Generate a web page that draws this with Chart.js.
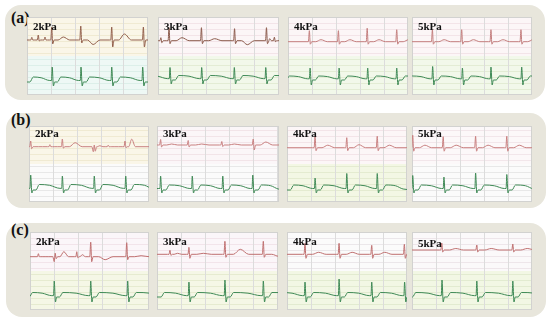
<!DOCTYPE html>
<html><head><meta charset="utf-8">
<script src="https://cdn.jsdelivr.net/npm/chart.js@4.4.0/dist/chart.umd.min.js"></script>
<style>
html,body{margin:0;padding:0;background:#fff;}
#root{position:relative;width:550px;height:325px;overflow:hidden;font-family:'Liberation Serif','Times New Roman',serif;}
.box{position:absolute;background:#e8e6dc;border-radius:16px;}
.panel{position:absolute;}
.panel canvas{display:block;}
.plabel{position:absolute;font-weight:bold;font-size:11px;color:#111;line-height:11px;white-space:nowrap;}
.rlabel{position:absolute;font-weight:bold;font-size:16px;color:#111;line-height:16px;}
</style></head><body><div id="root"></div>
<script>
// ---------- DATA ----------
const rowLabels = ["(a)", "(b)", "(c)"];
const pressures = ["2kPa", "3kPa", "4kPa", "5kPa"];

// Red (upper) traces: beats per panel as [time s, R mV, S depth mV, T mV, Q dip mV]
const redA = [
  [[0.2,0.27,0,0,0],[0.47,0.5,0.1,0,0],[0.75,0.3,0,0,0],[1.03,1.3,0.4,0.3,0],[2.24,1.4,0.3,-0.45,0],[3.53,1.3,0.7,0.6,0],[4.85,1.3,0.7,0,0]],
  [[0.12,0.3,0.2,0,0],[0.46,1.3,0.3,0.3,0],[1.81,1.3,0.3,0.2,0],[3.19,1.2,0.3,-0.4,0],[4.52,1.3,0.3,0.2,0],[4.85,0.35,0.1,0,0]],
  [[0.89,1.1,0.25,0.2,0],[2.1,1.1,0.25,0.2,0],[3.3,1.35,0.25,0.2,0],[4.53,1.2,0.25,0.2,0]],
  [[0.85,1.2,0.25,0.2,0],[2.07,1.2,0.25,0.2,0],[3.29,1.2,0.25,0.2,0],[4.54,1.2,0.25,0.2,0]]
];
const redB = [
  [[0.07,0.57,0.2,0,0],[0.87,0.2,0,0,0],[1.39,0.77,0.15,0.4,0],[2.72,0.17,0.45,0.1,0.5],[3.3,0.15,0,0,0],[4.0,0.57,0.1,0.75,0]],
  [[0.15,0.55,0.2,0.1,0],[1.3,0.45,0.2,0.1,0],[2.7,0.35,0.15,0.1,0],[4.01,0.6,0.5,0.3,0]],
  [[1.17,1.15,0.3,0.25,0],[2.49,1.0,0.3,0.3,0],[3.76,1.15,0.3,0.25,0]],
  [[0.03,1.25,0.35,0.25,0],[1.3,1.1,0.35,0.25,0],[2.65,1.15,0.35,0.25,0],[3.95,1.15,0.35,0.25,0]]
];
const redC = [
  [[0.35,0.3,0,0,0],[1.05,0.35,0.2,0.5,0.5],[1.95,0.5,0.1,0.2,0],[2.53,1.45,0.5,-0.3,0],[4.03,1.4,0.3,0.1,0]],
  [[0.54,0.4,0.1,0.1,0],[1.33,0.7,0.4,0.1,0],[2.83,1.3,0.3,0.5,0],[4.43,1.3,0.3,-0.2,0]],
  [[0.75,1.1,0.4,0.2,0],[2.17,1.1,0.4,0.2,0],[3.53,0.9,0.4,0.2,0],[4.89,1.0,0.4,0,0]],
  [[1.24,0.7,0.2,0.15,0],[2.7,0.5,0.2,0.15,0],[4.2,0.6,0.2,0.15,0]]
];

// Green (lower) traces: beats per panel as [time s, R mV, S depth mV, T mV]
const greenA = [
  [[-0.1,0,0,0.5],[1.05,1.5,0.4,0.5],[2.25,1.5,0.4,0.5],[3.53,1.5,0.4,0.5],[4.82,1.5,0.4,0.5]],
  [[-0.8,0,0,0.45],[0.5,1.25,0.4,0.45],[1.82,1.25,0.4,0.45],[3.18,1.25,0.4,0.45],[4.49,1.25,0.4,0.45]],
  [[-0.3,0,0,0.4],[0.92,1.2,0.5,0.4],[2.13,1.2,0.5,0.4],[3.32,1.2,0.5,0.4],[4.53,1.2,0.5,0.4]],
  [[-0.35,0,0,0.4],[0.86,1.35,0.5,0.4],[2.1,1.2,0.5,0.4],[3.29,1.3,0.5,0.4],[4.57,1.3,0.5,0.4]]
];
const greenB = [
  [[0.07,1.5,0.3,0.55],[1.39,1.4,0.3,0.55],[2.72,1.4,0.3,0.55],[4.03,1.4,0.3,0.55]],
  [[0.15,1.4,0.3,0.5],[1.47,1.4,0.3,0.5],[2.74,1.4,0.3,0.5],[3.99,1.5,0.3,0.5]],
  [[-0.08,0,0,0.5],[1.17,1.2,0.3,0.5],[2.49,1.65,0.3,0.5],[3.76,1.65,0.3,0.5]],
  [[0.03,1.45,0.3,0.5],[1.33,1.3,0.3,0.5],[2.65,1.7,0.3,0.5],[3.95,1.55,0.3,0.5]]
];
const greenC = [
  [[-0.25,0,0,0.45],[1.01,1.6,0.5,0.45],[2.53,1.6,0.5,0.45],[4.07,1.6,0.5,0.45]],
  [[-0.05,0,0,0.45],[1.33,1.5,0.5,0.45],[2.83,1.7,0.5,0.45],[4.43,1.6,0.5,0.45]],
  [[-0.6,0,0,0.45],[0.75,1.5,0.5,0.45],[2.17,1.8,0.5,0.45],[3.53,1.5,0.5,0.45],[4.9,1.5,0.5,0.45]],
  [[-0.2,0,0,0.45],[1.25,1.7,0.5,0.45],[2.7,1.6,0.5,0.45],[4.2,1.6,0.5,0.45]]
];
const redRows = [redA, redB, redC];
const greenRows = [greenA, greenB, greenC];

// ---------- LAYOUT & STYLE ----------
const PX_PER_S = 24, PX_PER_MV = 10;
const rowLayout = [
  {box:[5,5,540,95], label:[11,10], top:17, h:78, panels:[[27,121],[158,121],[288,120],[412,120]],
   redBase:[23,23.7,24.7,24.7], greenBase:[65,63,63,63], labelDY:[4,4,4,4]},
  {box:[6,113,540,95], label:[11,112], top:126, h:76, panels:[[29,120],[157,122],[287,120],[412,120]],
   redBase:[20.7,19,21.7,21.7], greenBase:[64,64,64,64], labelDY:[1.5,1.5,1.5,1.5]},
  {box:[6,223,540,94], label:[11,222], top:232, h:78, panels:[[30,119],[157,121],[287,120],[412,120]],
   redBase:[24.7,22.3,22.3,18], greenBase:[65,65,65,65], labelDY:[4,4,4,6]}
];
// [top fill, bottom fill, top grid, bottom grid]
const bgColors = [
  [["#faf6e8","#eef8f5","#f0ead2","#dcefe9"],["#fcf6f7","#f2f8ea","#f3e4e8","#e3ecd4"],["#fcf6f7","#f2f8ea","#f3e4e8","#e3ecd4"],["#fcf6f7","#f2f8ea","#f3e4e8","#e3ecd4"]],
  [["#faf6e8","#fbfbfb","#f0ead2","#e8e8e8"],["#fbf6f8","#fbfbfb","#f2e4e8","#e8e8e8"],["#fcf6f7","#f3f7e4","#f3e4e8","#e4ebd0"],["#fcf8f9","#fbfbfb","#f2e6ea","#e8e8e8"]],
  [["#fbf6f9","#f5f7e6","#f2e4ea","#e6ebd0"],["#fbf6f9","#f5f7e6","#f2e4ea","#e6ebd0"],["#fbfbfb","#f2f7e4","#ebe7ea","#e2ebd0"],["#fbf9fa","#f2f7e4","#eee6ea","#e2ebd0"]]
];
const redColors = [["#93604c","#8c5b4c","#c47f7e","#c47f7e"],["#c98080","#c98080","#c98080","#c98080"],["#c07070","#c07070","#c07070","#c07070"]];
const greenColor = "#3f8a56";

// ---------- BUILD TRACES ----------
function pushPt(arr, x, y){ if(arr.length===0 || x > arr[arr.length-1].x + 1e-6) arr.push({x, y}); }
function redTrace(beats, off, tmax){
  const pts=[]; pushPt(pts,-0.5,off);
  beats.forEach((b,i)=>{
    const [t,r,s,T,q]=b;
    const rr = i<beats.length-1 ? beats[i+1][0]-t : (i>0 ? t-beats[i-1][0] : 1.3);
    pushPt(pts,t-0.1,off); pushPt(pts,t-0.04,off-q); pushPt(pts,t,off+r);
    pushPt(pts,t+0.04,off-s); pushPt(pts,t+0.1,off);
    pushPt(pts,t+0.22*rr,off); pushPt(pts,t+0.4*rr,off+T); pushPt(pts,t+0.62*rr,off);
  });
  pushPt(pts,tmax+0.5,off);
  return pts;
}
function greenTrace(beats, off, tmax){
  const pts=[]; pushPt(pts,-1.5,off);
  beats.forEach((b,i)=>{
    const [t,r,s,T]=b;
    const rr = i<beats.length-1 ? beats[i+1][0]-t : (i>0 ? t-beats[i-1][0] : 1.3);
    const pre = 0.3*T;
    if(r>0){ pushPt(pts,t-0.1,off+pre); pushPt(pts,t-0.03,off+pre); pushPt(pts,t,off+r); pushPt(pts,t+0.05,off-s); pushPt(pts,t+0.1,off); }
    pushPt(pts,t+0.22,off); pushPt(pts,t+0.36,off+T); pushPt(pts,t+0.6*rr,off+0.85*T);
    if(i===beats.length-1) pushPt(pts,t+0.85*rr,off+0.2*T);
  });
  pushPt(pts,tmax+0.5,off);
  return pts;
}

const bgPlugin = {
  id:'ecgbg',
  beforeDraw(chart, args, o){
    const {ctx, chartArea:a, scales:{x,y}} = chart;
    const mid = Math.round(y.getPixelForValue(o.split));
    ctx.save();
    ctx.fillStyle=o.top; ctx.fillRect(a.left,a.top,a.width,mid-a.top);
    ctx.fillStyle=o.bottom; ctx.fillRect(a.left,mid,a.width,a.bottom-mid);
    ctx.lineWidth=1;
    for(let v=o.step; v<y.max-0.05; v+=o.step){
      const py=Math.round(y.getPixelForValue(v))+0.5;
      ctx.strokeStyle = py<mid ? o.gridTop : o.gridBottom;
      ctx.beginPath(); ctx.moveTo(a.left,py); ctx.lineTo(a.right,py); ctx.stroke();
    }
    ctx.strokeStyle="#dcdcdc";
    for(let t=1; t<x.max-0.05; t++){
      const px=Math.round(x.getPixelForValue(t))+0.5;
      ctx.beginPath(); ctx.moveTo(px,a.top); ctx.lineTo(px,a.bottom); ctx.stroke();
    }
    ctx.strokeStyle="#d2d2d0";
    ctx.strokeRect(a.left+0.5,a.top+0.5,a.width-1,a.height-1);
    ctx.restore();
  }
};

const root=document.getElementById('root');
rowLayout.forEach((L,ri)=>{
  const box=document.createElement('div'); box.className='box';
  Object.assign(box.style,{left:L.box[0]+'px',top:L.box[1]+'px',width:L.box[2]+'px',height:L.box[3]+'px'});
  root.appendChild(box);
  const rl=document.createElement('div'); rl.className='rlabel'; rl.textContent=rowLabels[ri];
  Object.assign(rl.style,{left:L.label[0]+'px',top:L.label[1]+'px'});
  root.appendChild(rl);
  L.panels.forEach(([left,w],pi)=>{
    const h=L.h;
    const div=document.createElement('div'); div.className='panel';
    Object.assign(div.style,{left:left+'px',top:L.top+'px',width:w+'px',height:h+'px'});
    const cv=document.createElement('canvas'); cv.width=w; cv.height=h; cv.style.width=w+'px'; cv.style.height=h+'px';
    div.appendChild(cv); root.appendChild(div);
    const tmax=w/PX_PER_S, ymax=h/PX_PER_MV;
    const redOff=(h-L.redBase[pi])/PX_PER_MV, greenOff=(h-L.greenBase[pi])/PX_PER_MV;
    const c=bgColors[ri][pi];
    new Chart(cv,{
      type:'line',
      data:{datasets:[
        {data:redTrace(redRows[ri][pi],redOff,tmax),borderColor:redColors[ri][pi],borderWidth:1,pointRadius:0,cubicInterpolationMode:'monotone'},
        {data:greenTrace(greenRows[ri][pi],greenOff,tmax),borderColor:greenColor,borderWidth:1,pointRadius:0,cubicInterpolationMode:'monotone'}
      ]},
      options:{
        responsive:false,animation:false,events:[],
        layout:{padding:0},
        parsing:false,
        scales:{x:{type:'linear',min:0,max:tmax,display:false},y:{type:'linear',min:0,max:ymax,display:false}},
        plugins:{legend:{display:false},tooltip:{enabled:false},
          ecgbg:{split:ymax/2,top:c[0],bottom:c[1],gridTop:c[2],gridBottom:c[3],step:0.6}}
      },
      plugins:[bgPlugin]
    });
    const pl=document.createElement('div'); pl.className='plabel'; pl.textContent=pressures[pi];
    Object.assign(pl.style,{left:(left+6)+'px',top:(L.top+L.labelDY[pi])+'px'});
    root.appendChild(pl);
  });
});
</script></body></html>
